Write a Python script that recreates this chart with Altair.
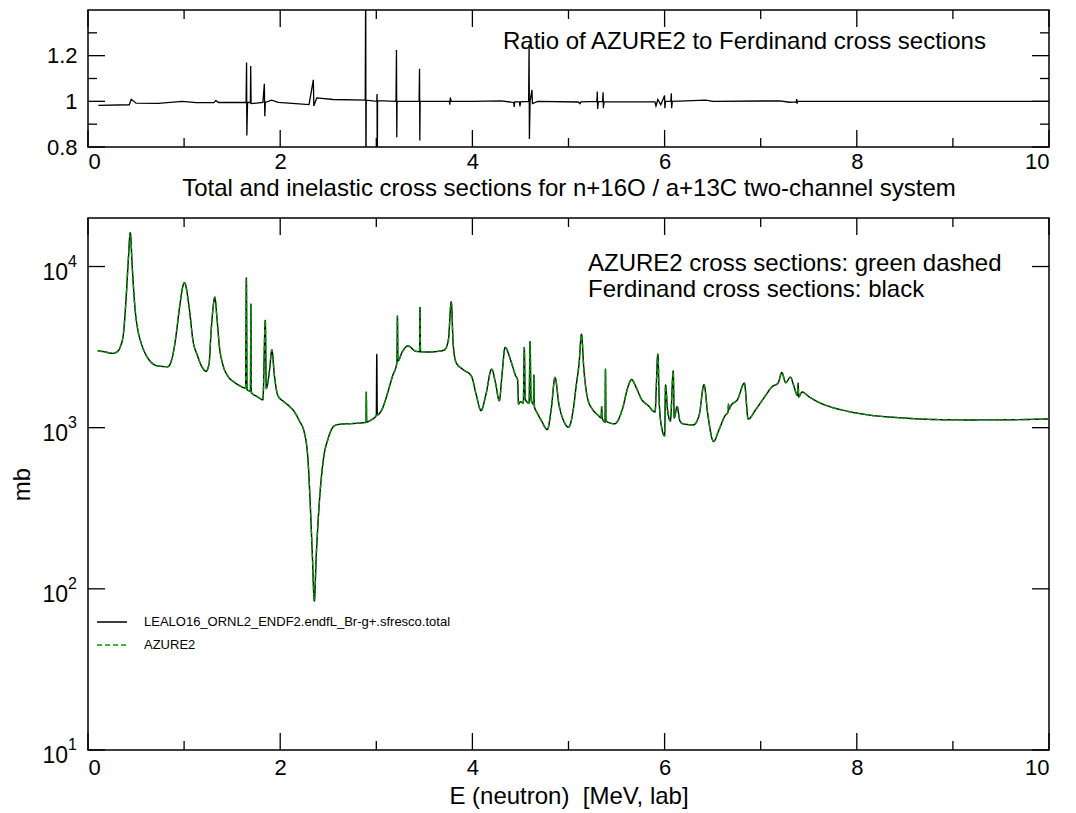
import altair as alt
import pandas as pd

FONT = "Liberation Sans"
GREEN = "#009a00"

# ---------------- data ----------------
# Ferdinand total cross section (black) : energy [MeV] and sigma [mb]
ferd_E = [0.10, 0.18, 0.257, 0.30, 0.34, 0.37, 0.396, 0.42, 0.44, 0.46, 0.49, 0.52, 0.55, 0.60,
          0.656, 0.72, 0.83, 0.89, 0.92, 0.95, 1.003, 1.055, 1.09, 1.14, 1.18, 1.23, 1.26, 1.28,
          1.30, 1.32, 1.34, 1.37, 1.40, 1.455, 1.52, 1.58, 1.64, 1.648, 1.655, 1.67, 1.69,
          1.695, 1.70, 1.76, 1.82, 1.845, 1.855, 1.865, 1.89, 1.913, 1.94, 1.976, 2.045, 2.10,
          2.15, 2.20, 2.25, 2.29, 2.31, 2.335, 2.355, 2.375, 2.41, 2.45, 2.497, 2.566, 2.62,
          2.705, 2.80, 2.893, 2.896, 2.90, 2.95, 3.0, 3.005, 3.01, 3.06, 3.12, 3.17, 3.215,
          3.22, 3.225, 3.27, 3.33, 3.40, 3.45, 3.455, 3.46, 3.55, 3.65, 3.71, 3.75, 3.78, 3.80,
          3.83, 3.90, 3.99, 4.04, 4.09, 4.14, 4.20, 4.24, 4.28, 4.31, 4.34, 4.40, 4.45, 4.47,
          4.48, 4.50, 4.53, 4.54, 4.55, 4.59, 4.60, 4.61, 4.635, 4.64, 4.645, 4.67, 4.72, 4.78,
          4.82, 4.86, 4.90, 4.95, 5.0, 5.05, 5.08, 5.11, 5.135, 5.16, 5.2, 5.25, 5.31, 5.34,
          5.345, 5.35, 5.38, 5.385, 5.39, 5.48, 5.56, 5.62, 5.656, 5.70, 5.76, 5.83, 5.90, 5.93,
          5.945, 5.97, 6.0, 6.01, 6.03, 6.06, 6.09, 6.10, 6.13, 6.16, 6.19, 6.30, 6.36, 6.41,
          6.45, 6.51, 6.56, 6.63, 6.66, 6.665, 6.67, 6.69, 6.76, 6.83, 6.87, 6.95, 7.05, 7.12,
          7.18, 7.22, 7.26, 7.31, 7.34, 7.385, 7.39, 7.395, 7.43, 7.50, 7.60, 7.72, 7.84, 8.12,
          8.47, 8.82, 9.16, 9.6, 10.0]
ferd_mb = [3000, 2950, 2890, 2950, 3220, 3900, 6270, 11100, 16200, 10000, 5430, 4000, 3400, 2850,
           2550, 2420, 2390, 2960, 3890, 5430, 7940, 5430, 3550, 2790, 2420, 2240, 2500, 3890,
           5430, 6460, 4940, 3090, 2500, 2090, 1920, 1820, 1760, 8500, 1720, 1700, 1690,
           5840, 1650, 1560, 1490, 4650, 1750, 1820, 2300, 3040, 2100, 1580, 1440, 1350,
           1250, 1100, 938, 620, 363, 160, 84, 160, 363, 640, 850, 1030, 1050,
           1057, 1065, 1080, 1660, 1085, 1120, 1190, 2860, 1200, 1300, 1660, 2100, 2540,
           4940, 2600, 2950, 3220, 3000, 2960, 5570, 2960, 2950, 2980, 3040, 3500, 6030, 3300,
           2540, 2300, 2090, 1600, 1276, 1600, 2310, 1900, 1470, 2200, 3150, 2600, 2100, 1990,
           1400, 1450, 1420, 3150, 1500, 1420, 3410, 1500, 1400, 2120, 1350, 1250, 1100, 973,
           1300, 2050, 1400, 1100, 1007, 1300, 1820, 2500, 3800, 2300, 1507, 1300, 1190, 1150,
           1350, 1150, 1080, 2310, 1100, 1057, 1300, 1800, 1990, 1800, 1500, 1370, 1250, 2860,
           1400, 1000, 890, 1840, 1300, 1100, 2250, 1150, 1350, 1100, 1057, 1040, 1200, 1850,
           1200, 820, 950, 1190, 1250, 1400, 1300, 1370, 1500, 1885, 1130, 1300, 1580, 1800,
           1885, 2200, 1900, 2060, 1850, 1580, 1890, 1550, 1665, 1560, 1440, 1350, 1290, 1200,
           1150, 1123, 1117, 1120, 1133]

# AZURE2 (green dashed) lies on top of the black curve everywhere except for
# the narrow resonance at 3.005 MeV, which only the black curve shows.
azure_missing = [3.005]
azure_E = [e for e in ferd_E if e not in azure_missing]
azure_mb = [m for e, m in zip(ferd_E, ferd_mb) if e not in azure_missing]

# Ratio AZURE2 / Ferdinand
ratio_E = [0.107, 0.43, 0.45, 0.50, 0.73, 0.98, 1.125, 1.31, 1.33, 1.36, 1.645, 1.65, 1.653,
           1.66, 1.69, 1.693, 1.697, 1.82, 1.835, 1.84, 1.845, 1.91, 1.98, 2.30, 2.345, 2.35,
           2.38, 2.55, 2.885, 2.89, 2.892, 2.895, 3.005, 3.008, 3.01, 3.013, 3.205, 3.21, 3.213,
           3.216, 3.445, 3.45, 3.453, 3.456, 3.76, 3.765, 3.77, 3.78, 4.0, 4.30, 4.43, 4.435,
           4.44, 4.49, 4.495, 4.50, 4.585, 4.59, 4.593, 4.60, 4.62, 4.625, 4.68, 5.10, 5.12,
           5.13, 5.295, 5.30, 5.303, 5.31, 5.355, 5.36, 5.363, 5.37, 5.90, 5.91, 5.93, 5.96,
           6.0, 6.003, 6.01, 6.065, 6.07, 6.073, 6.08, 6.43, 6.5, 7.2, 7.3, 7.37, 7.375, 7.378,
           7.385, 10.0]
ratio_val = [0.982, 0.985, 1.009, 0.992, 0.991, 1.0, 0.994, 0.994, 1.003, 0.995, 0.995, 1.17, 0.85,
             0.995, 0.995, 1.155, 0.99, 0.995, 1.077, 0.935, 0.995, 1.005, 0.995, 0.986, 1.094, 0.98,
             1.015, 1.008, 1.005, 1.6, 0.6, 1.005, 1.0, 1.032, 0.6, 1.003, 1.0, 1.225, 0.843,
             1.0, 1.0, 1.143, 0.828, 1.0, 1.0, 0.985, 1.017, 1.0, 1.0, 1.002, 0.995, 0.975,
             0.998, 0.998, 0.978, 0.998, 1.0, 1.25, 0.835, 1.0, 1.05, 0.99, 1.0, 0.997, 0.99,
             0.998, 1.0, 1.043, 0.966, 0.998, 1.0, 1.04, 0.97, 0.998, 0.998, 0.98, 1.008, 0.985,
             1.025, 0.97, 1.0, 1.0, 1.035, 0.97, 1.0, 1.005, 1.0, 1.002, 0.996, 0.998, 1.01, 0.99,
             1.0, 1.0]

x_major = [0, 2, 4, 6, 8, 10]
x_minor = [1, 3, 5, 7, 9]
ratio_major = [0.8, 1.0, 1.2]
ratio_minor = [0.9, 1.1, 1.3]
log_major = [10, 100, 1000, 10000]
log_exp = ["1", "2", "3", "4"]

LEG_F = "LEALO16_ORNL2_ENDF2.endfL_Br-g+.sfresco.total"
LEG_A = "AZURE2"
RATIO_NOTE = "Ratio of AZURE2 to Ferdinand cross sections"
TOP_XTITLE = "Total and inelastic cross sections for n+16O / a+13C two-channel system"
BOT_XTITLE = "E (neutron)\u00a0 [MeV, lab]"
NOTE1 = "AZURE2 cross sections: green dashed"
NOTE2 = "Ferdinand cross sections: black"

W = 961
H_TOP = 137
H_BOT = 532
MAJ = 17
MIN = 9

# ---------------- scales ----------------
xs = alt.Scale(domain=[0, 10], nice=False, zero=False)
ys_top = alt.Scale(domain=[0.8, 1.4], nice=False, zero=False)
ys_bot = alt.Scale(type="log", domain=[10, 20000], nice=False)


def x_ticks(vals, length, h):
    df = pd.DataFrame({"E": vals})
    bottom = alt.Chart(df).mark_rule(color="black", strokeWidth=1.3).encode(
        x=alt.X("E:Q", scale=xs), y=alt.value(h), y2=alt.value(h - length))
    top = alt.Chart(df).mark_rule(color="black", strokeWidth=1.3).encode(
        x=alt.X("E:Q", scale=xs), y=alt.value(0), y2=alt.value(length))
    return [bottom, top]


def y_ticks(vals, length, field, scale):
    df = pd.DataFrame({field: vals})
    left = alt.Chart(df).mark_rule(color="black", strokeWidth=1.3).encode(
        y=alt.Y(f"{field}:Q", scale=scale), x=alt.value(0), x2=alt.value(length))
    right = alt.Chart(df).mark_rule(color="black", strokeWidth=1.3).encode(
        y=alt.Y(f"{field}:Q", scale=scale), x=alt.value(W), x2=alt.value(W - length))
    return [left, right]


# ---------------- top panel: ratio ----------------
ratio_df = pd.DataFrame({"E": ratio_E, "r": ratio_val})
ratio_line = alt.Chart(ratio_df).mark_line(color="black", strokeWidth=1.3, clip=True).encode(
    x=alt.X("E:Q", scale=xs,
            axis=alt.Axis(values=x_major, format="d", ticks=False, domain=False, grid=False,
                          labelFontSize=22, labelPadding=4, title=TOP_XTITLE,
                          titleFontSize=24, titlePadding=4)),
    y=alt.Y("r:Q", scale=ys_top,
            axis=alt.Axis(values=ratio_major, format=".1~f", ticks=False, domain=False,
                          grid=False, labelFontSize=22, labelPadding=11, title=None)),
)
ratio_note = alt.Chart(pd.DataFrame({"t": [RATIO_NOTE]})).mark_text(
    align="left", baseline="alphabetic", font=FONT, fontSize=24, color="black").encode(
    text="t:N", x=alt.value(415), y=alt.value(39))

top_layers = [ratio_line, ratio_note]
top_layers += x_ticks(x_major, MAJ, H_TOP)
top_layers += x_ticks(x_minor, MIN, H_TOP)
top_layers += y_ticks(ratio_major, MAJ, "r", ys_top)
top_layers += y_ticks(ratio_minor, MIN, "r", ys_top)
top = alt.layer(*top_layers).properties(width=W, height=H_TOP)

# ---------------- bottom panel: cross sections ----------------
ferd_df = pd.DataFrame({"E": ferd_E, "mb": ferd_mb, "series": LEG_F})
azure_df = pd.DataFrame({"E": azure_E, "mb": azure_mb, "series": LEG_A})
curves_df = pd.concat([ferd_df, azure_df], ignore_index=True)

leg = alt.Legend(orient="none", legendX=8, legendY=596, title=None, symbolType="stroke",
                 symbolSize=900, symbolStrokeWidth=1.5, labelFont=FONT, labelFontSize=13,
                 labelColor="black", labelOffset=16, labelLimit=600, rowPadding=-5, padding=0)

curves = alt.Chart(curves_df).mark_line(strokeWidth=1.4, clip=True, interpolate="monotone").encode(
    x=alt.X("E:Q", scale=xs,
            axis=alt.Axis(values=x_major, format="d", ticks=False, domain=False, grid=False,
                          labelFontSize=22, labelPadding=7, title=BOT_XTITLE,
                          titleFontSize=24, titlePadding=6)),
    y=alt.Y("mb:Q", scale=ys_bot,
            axis=alt.Axis(labels=False, ticks=False, domain=False, grid=False, title="mb",
                          titleFontSize=24, titlePadding=54)),
    color=alt.Color("series:N", scale=alt.Scale(domain=[LEG_F, LEG_A], range=["black", GREEN]),
                    legend=leg),
    strokeDash=alt.StrokeDash("series:N",
                              scale=alt.Scale(domain=[LEG_F, LEG_A], range=[[1, 0], [5, 3]]),
                              legend=leg),
)

lab_df = pd.DataFrame({"mb": log_major, "e": log_exp, "b": ["10"] * len(log_major)})
lab_base = alt.Chart(lab_df).mark_text(align="right", baseline="middle", font=FONT, fontSize=23,
                                       color="black", dy=6).encode(
    y=alt.Y("mb:Q", scale=ys_bot), x=alt.value(-20), text="b:N")
lab_exp = alt.Chart(lab_df).mark_text(align="left", baseline="middle", font=FONT, fontSize=16,
                                      color="black", dy=-5).encode(
    y=alt.Y("mb:Q", scale=ys_bot), x=alt.value(-20), text="e:N")

note1 = alt.Chart(pd.DataFrame({"t": [NOTE1]})).mark_text(
    align="left", baseline="alphabetic", font=FONT, fontSize=24, color="black").encode(
    text="t:N", x=alt.value(500), y=alt.value(53))
note2 = alt.Chart(pd.DataFrame({"t": [NOTE2]})).mark_text(
    align="left", baseline="alphabetic", font=FONT, fontSize=24, color="black").encode(
    text="t:N", x=alt.value(500), y=alt.value(79))

bot_layers = [curves, lab_base, lab_exp, note1, note2]
bot_layers += x_ticks(x_major, MAJ, H_BOT)
bot_layers += x_ticks(x_minor, MIN, H_BOT)
bot_layers += y_ticks(log_major, MAJ, "mb", ys_bot)
bottom = alt.layer(*bot_layers).properties(width=W, height=H_BOT)

chart = alt.vconcat(top, bottom, spacing=15).properties(
    padding={"left": 1, "top": 0, "right": 5, "bottom": 0}
).configure_view(stroke="black", strokeWidth=1.5).configure_axis(
    labelFont=FONT, titleFont=FONT, labelColor="black", titleColor="black",
    titleFontWeight="normal"
).configure_text(font=FONT)

chart.save("out.html", embed_options={"renderer": "svg", "actions": False})
